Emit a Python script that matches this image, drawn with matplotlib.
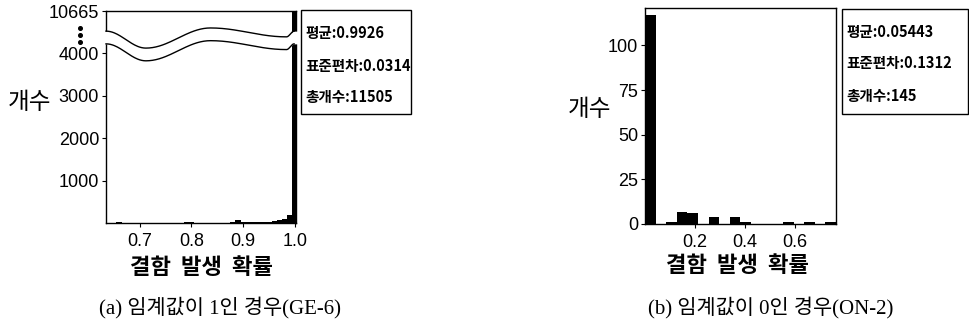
import matplotlib
matplotlib.use("Agg")
import matplotlib.pyplot as plt
import numpy as np
from matplotlib.patches import Rectangle
from matplotlib.lines import Line2D

KO = "Noto Sans CJK KR"
LAT = "Liberation Sans"
plt.rcParams["font.family"] = [LAT, KO]

# (a) threshold 1 (GE-6): bin centres, counts
a_centers = [0.64, 0.65, 0.66, 0.67, 0.68, 0.69, 0.70, 0.71, 0.72, 0.73,
             0.74, 0.75, 0.76, 0.77, 0.78, 0.79, 0.80, 0.81, 0.82, 0.83,
             0.84, 0.85, 0.86, 0.87, 0.88, 0.89, 0.90, 0.91, 0.92, 0.93,
             0.94, 0.95, 0.96, 0.97, 0.98, 0.99, 1.00]
a_counts = [0, 0, 25, 5, 5, 5, 5, 5, 5, 5,
            5, 5, 5, 5, 5, 15, 30, 8, 8, 8,
            8, 8, 8, 8, 30, 60, 25, 15, 20, 25,
            30, 35, 45, 60, 100, 200, 10665]
a_yticks = [1000, 2000, 3000, 4000]
a_xticks = [0.7, 0.8, 0.9, 1.0]
a_stats = ["평균:0.9926", "표준편차:0.0314", "총개수:11505"]

# (b) threshold 0 (ON-2): bin left edges, counts
b_width = 0.0425
b_edges = [i * b_width for i in range(18)]
b_counts = [117, 0, 1, 7, 6, 0, 4, 0, 4, 1, 0, 0, 0, 1, 0, 1, 0, 1]
b_yticks = [0, 25, 50, 75, 100]
b_xticks = [0.2, 0.4, 0.6]
b_stats = ["평균:0.05443", "표준편차:0.1312", "총개수:145"]

W, H = 970, 324
fig = plt.figure(figsize=(W / 100, H / 100), dpi=100)


def fx(px):
    return px / W


def fy(py):
    return 1 - py / H


def style_axes(ax):
    for s in ax.spines.values():
        s.set_linewidth(1.0)
        s.set_color("black")
    ax.tick_params(direction="out", length=3, width=0.8, labelsize=13, pad=2)
    ax.tick_params(axis="x", pad=4)


def stats_box(x0, x1, y0, y1, lines, tx, tys):
    fig.add_artist(Rectangle((fx(x0), fy(y1)), fx(x1 - x0), (y1 - y0) / H,
                             transform=fig.transFigure, fill=False,
                             edgecolor="black", linewidth=1.0))
    for t, y in zip(lines, tys):
        fig.text(fx(tx), fy(y), t, family=[KO], fontweight="bold",
                 fontsize=10.5, va="center", ha="left")


# ---- panel (a): broken y axis ----
ax1 = fig.add_axes([fx(106), fy(223), fx(190), 212 / H])
top = 4990
ax1.bar(a_centers, a_counts, width=0.01, color="black", linewidth=0)
ax1.set_xlim(0.635, 1.002)
ax1.set_ylim(0, top)
ax1.set_yticks(a_yticks + [top])
ax1.set_yticklabels([str(v) for v in a_yticks] + ["10665"])
ax1.set_xticks(a_xticks)
ax1.set_xticklabels([f"{v:.1f}" for v in a_xticks])
style_axes(ax1)

# wavy break band (axes coordinates)
nodes_x = [0.0, 0.21, 0.55, 0.95, 0.99]
nodes_y = [0.905, 0.825, 0.92, 0.878, 0.905]
xs, ys = [], []
for i in range(len(nodes_x) - 1):
    t = np.linspace(0, 1, 40)
    xs.append(nodes_x[i] + (nodes_x[i + 1] - nodes_x[i]) * t)
    ys.append(nodes_y[i] + (nodes_y[i + 1] - nodes_y[i]) * (1 - np.cos(np.pi * t)) / 2)
xs = np.concatenate(xs)
ys = np.concatenate(ys)
gap = 0.06
xf = np.concatenate([[-0.01], xs, [1.01]])
yf = np.concatenate([[ys[0]], ys, [ys[-1]]])
ax1.fill_between(xf, yf - gap, yf, color="white", transform=ax1.transAxes,
                 zorder=4, clip_on=False, linewidth=0)
ax1.plot(xs, ys, color="black", lw=1.0, transform=ax1.transAxes, zorder=5,
         clip_on=False)
ax1.plot(xs, ys - gap, color="black", lw=1.0, transform=ax1.transAxes,
         zorder=5, clip_on=False)
fig.add_artist(Line2D([fx(80)] * 3, [fy(28), fy(35), fy(42)], linestyle="none",
                      marker="o", markersize=2.6, color="black",
                      transform=fig.transFigure))

fig.text(fx(30), fy(102), "개수", family=[KO], fontsize=17, ha="center", va="center")
fig.text(fx(201), fy(268), "결함  발생  확률", family=[KO], fontsize=16,
         fontweight="bold", ha="center", va="center")
stats_box(301, 411, 10, 114, a_stats, 305, [33, 66, 97])
fig.text(fx(220), fy(307), "(a) 임계값이 1인 경우(GE-6)",
         family=["Liberation Serif", KO], fontsize=15, ha="center", va="center")

# ---- panel (b) ----
ax2 = fig.add_axes([fx(645), fy(224), fx(191), 216 / H])
ax2.bar(b_edges, b_counts, width=b_width, align="edge", color="black", linewidth=0)
ax2.set_xlim(0, 0.765)
ax2.set_ylim(0, 121)
ax2.set_yticks(b_yticks)
ax2.set_xticks(b_xticks)
ax2.set_xticklabels([f"{v:.1f}" for v in b_xticks])
style_axes(ax2)

fig.text(fx(590), fy(110), "개수", family=[KO], fontsize=17, ha="center", va="center")
fig.text(fx(738), fy(265), "결함  발생  확률", family=[KO], fontsize=16,
         fontweight="bold", ha="center", va="center")
stats_box(842, 968, 9, 114, b_stats, 846, [32, 63, 96])
fig.text(fx(771), fy(307), "(b) 임계값이 0인 경우(ON-2)",
         family=["Liberation Serif", KO], fontsize=15, ha="center", va="center")

fig.savefig("out.png", dpi=100)
